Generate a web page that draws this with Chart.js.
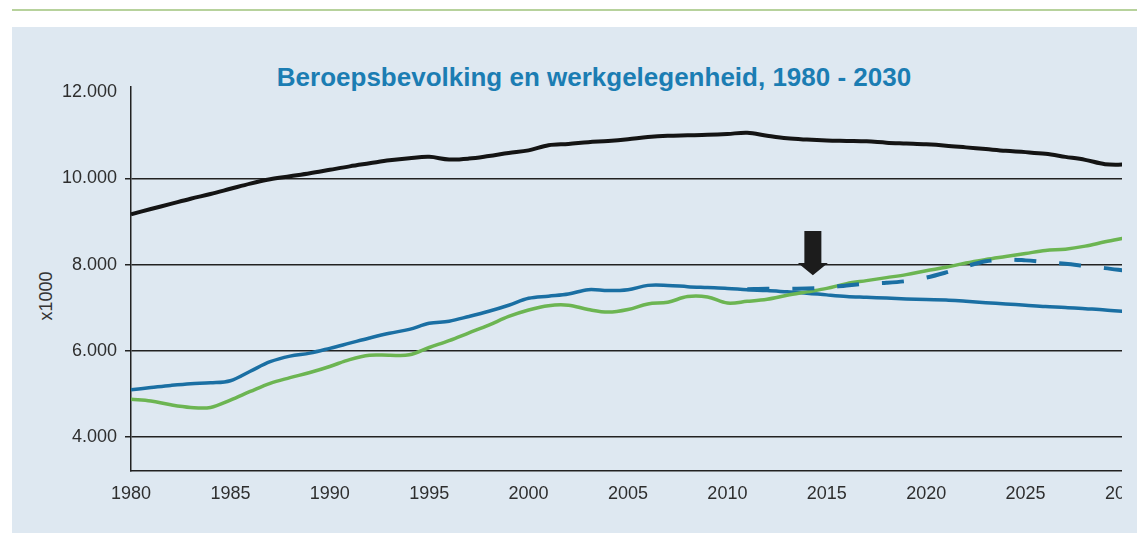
<!DOCTYPE html>
<html>
<head>
<meta charset="utf-8">
<script src="https://cdn.jsdelivr.net/npm/chart.js@4.4.1/dist/chart.umd.min.js"></script>
<style>
  body { margin: 0; width: 1137px; height: 533px; background: #fff; position: relative; overflow: hidden; }
  #topline { position: absolute; left: 12px; top: 9px; width: 1125px; height: 2px; background: #b7d29c; }
  #panel { position: absolute; left: 12px; top: 27px; width: 1125px; height: 506px; background: #dee8f1; }
  #titel { position: absolute; left: 0; width: 1188px; top: 62px; line-height: 26px; text-align: center;
           font: bold 26px "Liberation Sans", sans-serif; color: #1b7db3; white-space: nowrap; }
  #yas { position: absolute; left: 46px; top: 296px; transform: translate(-50%, -50%) rotate(-90deg);
         font: 18px "Liberation Sans", sans-serif; color: #333; white-space: nowrap; }
  #clip { position: absolute; left: 0; top: 0; width: 1122px; height: 533px; overflow: hidden; }
  #wrap { position: absolute; left: 0; top: 0; width: 1158px; height: 533px; }
</style>
</head>
<body>
<div id="topline"></div>
<div id="panel"></div>
<div id="titel">Beroepsbevolking en werkgelegenheid, 1980 - 2030</div>
<div id="yas">x1000</div>
<div id="clip"><div id="wrap"><canvas id="grafiek"></canvas></div></div>

<script>
// jaren en reeksen (x1000)
const jaren = [1980, 1981, 1982, 1983, 1984, 1985, 1986, 1987, 1988, 1989,
  1990, 1991, 1992, 1993, 1994, 1995, 1996, 1997, 1998, 1999,
  2000, 2001, 2002, 2003, 2004, 2005, 2006, 2007, 2008, 2009,
  2010, 2011, 2012, 2013, 2014, 2015, 2016, 2017, 2018, 2019,
  2020, 2021, 2022, 2023, 2024, 2025, 2026, 2027, 2028, 2029, 2030];

const potentieel = [9170, 9290, 9410, 9530, 9640, 9760, 9880, 9980, 10050, 10120,
  10200, 10280, 10350, 10420, 10470, 10500, 10440, 10460, 10520, 10590,
  10650, 10770, 10800, 10840, 10870, 10910, 10960, 10990, 11000, 11010,
  11030, 11060, 10990, 10930, 10900, 10880, 10870, 10860, 10830, 10810,
  10790, 10760, 10720, 10680, 10640, 10610, 10570, 10500, 10430, 10330, 10320];

const beroepsbevolking = [5100, 5150, 5200, 5240, 5260, 5310, 5530, 5750, 5880, 5950,
  6060, 6180, 6300, 6410, 6500, 6640, 6690, 6800, 6920, 7060,
  7220, 7270, 7320, 7420, 7400, 7420, 7520, 7520, 7490, 7470,
  7450, 7420, 7400, 7370, 7340, 7300, 7265, 7245, 7225, 7205,
  7190, 7180, 7150, 7120, 7090, 7060, 7030, 7010, 6980, 6950, 6910];

const beroepsbevolkingAlt = [null, null, null, null, null, null, null, null, null, null,
  null, null, null, null, null, null, null, null, null, null,
  null, null, null, null, null, null, null, null, null, null,
  null, 7430, 7440, 7440, 7450, 7470, 7520, 7560, 7580, 7620,
  7700, 7820, 7960, 8080, 8120, 8100, 8060, 8020, 7970, 7920, 7860];

const werkgelegenheid = [4880, 4840, 4750, 4690, 4690, 4860, 5060, 5250, 5380, 5500,
  5640, 5800, 5900, 5900, 5910, 6080, 6240, 6420, 6600, 6800,
  6950, 7050, 7060, 6960, 6900, 6960, 7090, 7130, 7260, 7250,
  7110, 7150, 7200, 7290, 7370, 7450, 7560, 7630, 7700, 7770,
  7860, 7940, 8040, 8120, 8190, 8260, 8330, 8360, 8430, 8530, 8620];

const xLabels = [1980, 1985, 1990, 1995, 2000, 2005, 2010, 2015, 2020, 2025, 2030];
const yLabels = [4000, 6000, 8000, 10000, 12000];

// pijl boven 2014
const pijlJaar = 2014.3;
const pijlBoven = 8780;
const pijlVoet = 8040;
const pijlPunt = 7755;

function punten(reeks) {
  return jaren.map((j, i) => ({ x: j, y: reeks[i] }));
}

function metPunt(v) {
  return String(v).replace(/\B(?=(\d{3})+(?!\d))/g, '.');
}

const pijlPlugin = {
  id: 'pijl',
  afterDatasetsDraw(chart) {
    const ctx = chart.ctx;
    const x = chart.scales.x.getPixelForValue(pijlJaar);
    const yTop = chart.scales.y.getPixelForValue(pijlBoven);
    const yVoet = chart.scales.y.getPixelForValue(pijlVoet);
    const yPunt = chart.scales.y.getPixelForValue(pijlPunt);
    ctx.save();
    ctx.fillStyle = '#1c1c1c';
    ctx.beginPath();
    ctx.moveTo(x - 8.5, yTop);
    ctx.lineTo(x + 8.5, yTop);
    ctx.lineTo(x + 8.5, yVoet);
    ctx.lineTo(x + 15, yVoet);
    ctx.lineTo(x, yPunt);
    ctx.lineTo(x - 15, yVoet);
    ctx.lineTo(x - 8.5, yVoet);
    ctx.closePath();
    ctx.fill();
    ctx.restore();
  }
};

Chart.defaults.font.family = '"Liberation Sans", sans-serif';
Chart.defaults.font.size = 18;
Chart.defaults.color = '#2e2e2e';

new Chart(document.getElementById('grafiek'), {
  type: 'line',
  data: {
    datasets: [
      {
        data: punten(potentieel),
        borderColor: '#141414',
        borderWidth: 4,
        order: 3
      },
      {
        data: punten(beroepsbevolking),
        borderColor: '#1a6fa3',
        borderWidth: 3.5,
        order: 2
      },
      {
        data: punten(werkgelegenheid),
        borderColor: '#6cb552',
        borderWidth: 3.5,
        order: 1
      },
      {
        data: punten(beroepsbevolkingAlt),
        borderColor: '#1a6fa3',
        borderWidth: 4,
        borderDash: [22, 23],
        spanGaps: false,
        order: 0
      }
    ]
  },
  options: {
    responsive: true,
    maintainAspectRatio: false,
    animation: false,
    layout: { padding: { left: 0, top: 87, right: 0, bottom: 15 } },
    elements: {
      point: { radius: 0 },
      line: { tension: 0.35, borderCapStyle: 'butt' }
    },
    plugins: {
      legend: { display: false },
      tooltip: { enabled: false }
    },
    scales: {
      x: {
        type: 'linear',
        min: 1980,
        max: 2030,
        afterBuildTicks: (scale) => { scale.ticks = xLabels.map(v => ({ value: v })); },
        ticks: {
          padding: 13,
          maxRotation: 0,
          autoSkip: false,
          callback: (v) => String(v)
        },
        grid: { display: false, drawTicks: false },
        border: { display: true, color: '#222', width: 1.5 }
      },
      y: {
        min: 3230,
        max: 12120,
        afterBuildTicks: (scale) => { scale.ticks = yLabels.map(v => ({ value: v })); },
        afterFit: (scale) => { scale.width = 131; },
        ticks: {
          padding: 8,
          callback: (v) => metPunt(v)
        },
        grid: {
          color: (c) => (c.tick && c.tick.value === 12000 ? 'rgba(0,0,0,0)' : '#222'),
          lineWidth: 1.5,
          tickLength: 6
        },
        border: { display: true, color: '#222', width: 1.5 }
      }
    }
  },
  plugins: [pijlPlugin]
});
</script>
</body>
</html>
